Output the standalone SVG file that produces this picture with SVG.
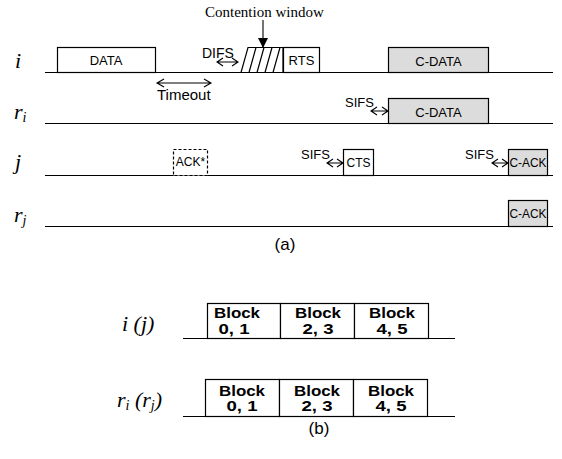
<svg xmlns="http://www.w3.org/2000/svg" width="562" height="459" viewBox="0 0 562 459">
  <style>
    .bg { fill: #ffffff; }
    .line { stroke: #000; stroke-width: 1.2; fill: none; }
    .frame { fill: #ffffff; stroke: #000; stroke-width: 1.2; }
    .gray { fill: #dcdcdc; stroke: #000; stroke-width: 1.2; }
    .dash { fill: #ffffff; stroke: #000; stroke-width: 1.2; stroke-dasharray: 3 2; }
    .sans { font-family: "Liberation Sans", Arial, sans-serif; font-size: 13px; fill: #000; }
    .small { font-family: "Liberation Sans", Arial, sans-serif; font-size: 12px; fill: #000; }
    .serif { font-family: "Liberation Serif", "Times New Roman", serif; font-size: 15px; fill: #000; }
    .lbl { font-family: "Liberation Serif", "Times New Roman", serif; font-style: italic; font-size: 22px; fill: #000; }
    .sub { font-size: 14px; }
    .bold { font-family: "Liberation Sans", Arial, sans-serif; font-weight: bold; font-size: 14px; fill: #000; }
    .cap { font-family: "Liberation Sans", Arial, sans-serif; font-size: 17px; fill: #000; }
    .mid { text-anchor: middle; }
    .arr { stroke: #000; stroke-width: 1.1; fill: none; }
  </style>
  <defs>
    <marker id="head" markerWidth="10" markerHeight="10" refX="9" refY="5" orient="auto" markerUnits="userSpaceOnUse">
      <path d="M0,0 L10,5 L0,10 Z" fill="#000"/>
    </marker>
  </defs>
  <rect class="bg" width="562" height="459"/>

  <!-- (a) station timelines -->
  <g id="timelines">
    <line class="line" x1="45" y1="72.5" x2="553" y2="72.5"/>
    <line class="line" x1="45" y1="123.5" x2="553" y2="123.5"/>
    <line class="line" x1="45" y1="175.5" x2="553" y2="175.5"/>
    <line class="line" x1="45" y1="226.5" x2="553" y2="226.5"/>
  </g>

  <g id="labels-a">
    <text class="lbl" x="15" y="68">i</text>
    <text class="lbl" x="14" y="119">r<tspan class="sub" dy="3">i</tspan></text>
    <text class="lbl" x="15" y="169">j</text>
    <text class="lbl" x="14" y="222">r<tspan class="sub" dy="3">j</tspan></text>
  </g>

  <!-- station i -->
  <g id="i-data">
    <rect class="frame" x="57.5" y="47.5" width="98" height="25"/>
    <text class="sans mid" x="106" y="65">DATA</text>
  </g>
  <g id="contention-window">
    <text class="serif" x="205" y="17">Contention window</text>
    <polygon class="frame" points="241,72.5 248,47.5 283,47.5 283,72.5"/>
    <path class="line" d="M249,72.5 L256,47.5 M257,72.5 L264,47.5 M265,72.5 L272,47.5 M273,72.5 L280,47.5"/>
  </g>
  <g id="i-rts">
    <rect class="frame" x="283.5" y="47.5" width="36" height="25"/>
    <text class="sans mid" x="301.5" y="65">RTS</text>
  </g>
  <g id="i-cdata">
    <rect class="gray" x="388.5" y="47.5" width="100" height="25"/>
    <text class="sans mid" x="438.5" y="66">C-DATA</text>
  </g>

  <!-- station r_i -->
  <g id="ri-cdata">
    <rect class="gray" x="388.5" y="98.5" width="100" height="25"/>
    <text class="sans mid" x="438.5" y="117">C-DATA</text>
  </g>

  <!-- station j -->
  <g id="j-ack">
    <rect class="dash" x="173.5" y="149.5" width="34" height="26"/>
    <text class="small mid" x="190.5" y="166">ACK*</text>
  </g>
  <g id="j-cts">
    <rect class="frame" x="343.5" y="149.5" width="30" height="26"/>
    <text class="small mid" x="358.5" y="167">CTS</text>
  </g>
  <g id="j-cack">
    <rect class="gray" x="508.5" y="149.5" width="39" height="26"/>
    <text class="small mid" x="528" y="167" textLength="37" lengthAdjust="spacingAndGlyphs">C-ACK</text>
  </g>

  <!-- station r_j -->
  <g id="rj-cack">
    <rect class="gray" x="508.5" y="200.5" width="39" height="26"/>
    <text class="small mid" x="528" y="218" textLength="37" lengthAdjust="spacingAndGlyphs">C-ACK</text>
  </g>

  <!-- interval markers and arrows -->
  <g id="connectors">
    <line class="arr" x1="263" y1="20" x2="263" y2="47" marker-end="url(#head)"/>
    <!-- DIFS -->
    <path class="arr" d="M217,62 L238,62 M223,58 L217,62 L223,66 M232,58 L238,62 L232,66"/>
    <!-- Timeout -->
    <path class="arr" d="M157,83 L211,83 M164,79 L157,83 L164,87 M204,79 L211,83 L204,87"/>
    <!-- SIFS before C-DATA -->
    <path class="arr" d="M371,111 L388,111 M377,107 L371,111 L377,115 M382,107 L388,111 L382,115"/>
    <!-- SIFS before CTS -->
    <path class="arr" d="M327,163 L343,163 M333,159 L327,163 L333,167 M337,159 L343,163 L337,167"/>
    <!-- SIFS before C-ACK -->
    <path class="arr" d="M492,163 L508,163 M498,159 L492,163 L498,167 M502,159 L508,163 L502,167"/>
  </g>
  <g id="interval-labels">
    <text class="sans" x="202" y="58" style="font-size:14px">DIFS</text>
    <text class="sans" x="157" y="100" style="font-size:15px">Timeout</text>
    <text class="sans" x="345" y="107">SIFS</text>
    <text class="sans" x="301" y="159">SIFS</text>
    <text class="sans" x="465" y="159">SIFS</text>
  </g>
  <text class="cap mid" x="285" y="250">(a)</text>

  <!-- (b) block layout -->
  <g id="labels-b">
    <text class="lbl" x="122" y="331">i (j)</text>
    <text class="lbl" x="117" y="407">r<tspan class="sub" dy="3">i</tspan><tspan dy="-3"> (r</tspan><tspan class="sub" dy="3">j</tspan><tspan dy="-3">)</tspan></text>
  </g>
  <g id="timelines-b">
    <line class="line" x1="183" y1="338.5" x2="455" y2="338.5"/>
    <line class="line" x1="183" y1="416.5" x2="455" y2="416.5"/>
  </g>
  <g id="ij-block01">
    <rect class="frame" x="207.5" y="303.5" width="73" height="35"/>
    <text class="bold mid" x="237" y="318" textLength="46" lengthAdjust="spacingAndGlyphs">Block</text>
    <text class="bold mid" x="234" y="334" textLength="31" lengthAdjust="spacingAndGlyphs">0, 1</text>
  </g>
  <g id="ij-block23">
    <rect class="frame" x="280.5" y="303.5" width="74" height="35"/>
    <text class="bold mid" x="318" y="318" textLength="46" lengthAdjust="spacingAndGlyphs">Block</text>
    <text class="bold mid" x="318" y="334" textLength="31" lengthAdjust="spacingAndGlyphs">2, 3</text>
  </g>
  <g id="ij-block45">
    <rect class="frame" x="354.5" y="303.5" width="74" height="35"/>
    <text class="bold mid" x="392" y="318" textLength="46" lengthAdjust="spacingAndGlyphs">Block</text>
    <text class="bold mid" x="392" y="334" textLength="31" lengthAdjust="spacingAndGlyphs">4, 5</text>
  </g>
  <g id="rr-block01">
    <rect class="frame" x="205.5" y="379.5" width="74" height="37"/>
    <text class="bold mid" x="242" y="396" textLength="46" lengthAdjust="spacingAndGlyphs">Block</text>
    <text class="bold mid" x="242" y="411" textLength="31" lengthAdjust="spacingAndGlyphs">0, 1</text>
  </g>
  <g id="rr-block23">
    <rect class="frame" x="279.5" y="379.5" width="74" height="37"/>
    <text class="bold mid" x="317" y="396" textLength="46" lengthAdjust="spacingAndGlyphs">Block</text>
    <text class="bold mid" x="317" y="411" textLength="31" lengthAdjust="spacingAndGlyphs">2, 3</text>
  </g>
  <g id="rr-block45">
    <rect class="frame" x="353.5" y="379.5" width="74" height="37"/>
    <text class="bold mid" x="391" y="396" textLength="46" lengthAdjust="spacingAndGlyphs">Block</text>
    <text class="bold mid" x="391" y="411" textLength="31" lengthAdjust="spacingAndGlyphs">4, 5</text>
  </g>
  <text class="cap mid" x="319" y="434">(b)</text>
</svg>
